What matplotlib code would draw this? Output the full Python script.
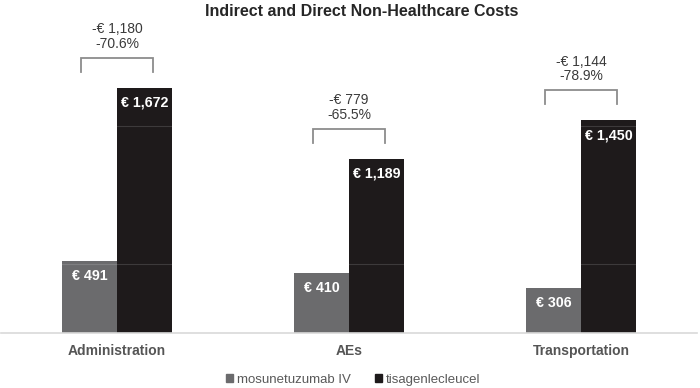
import matplotlib
matplotlib.use("Agg")
import matplotlib.pyplot as plt
from matplotlib.patches import Patch

plt.rcParams['font.family'] = ['Liberation Sans', 'DejaVu Sans']

categories = ["Administration", "AEs", "Transportation"]
series_names = ["mosunetuzumab IV", "tisagenlecleucel"]
mosun = [491, 410, 306]
tisa = [1672, 1189, 1450]
diff_labels = ["-€ 1,180\n-70.6%", "-€ 779\n-65.5%", "-€ 1,144\n-78.9%"]

gray = "#6b6b6d"
black = "#1e1a1b"
txt = "#3a3a3a"

fig = plt.figure(figsize=(7.0, 3.88), dpi=100)
ax = fig.add_axes([1/700, 1 - 333/388, 696/700, (333 - 39.6)/388])

x = list(range(len(categories)))
w = 0.237
b1 = ax.bar([i - w/2 for i in x], mosun, width=w, color=gray, zorder=2)
b2 = ax.bar([i + w/2 for i in x], tisa, width=w, color=black, zorder=2)

ax.set_xlim(-0.5, 2.5)
ax.set_ylim(0, 2000)

# faint gridlines visible through bars
for g in (470, 1410):
    ax.axhline(g, color="white", alpha=0.14, lw=0.8, zorder=3)

for spine in ("left", "right", "top"):
    ax.spines[spine].set_visible(False)
ax.spines["bottom"].set_color("#d9d9d9")
ax.spines["bottom"].set_linewidth(1.2)
ax.set_yticks([])
ax.set_xticks(x)
ax.set_xticklabels(categories, fontsize=10, fontweight="bold", color="#555555")
ax.tick_params(axis="x", length=0, pad=8)

for bars, vals in ((b1, mosun), (b2, tisa)):
    for r, v in zip(bars, vals):
        ax.annotate(f"€ {v:,}", (r.get_x() + r.get_width()/2, v),
                    xytext=(0, -11), textcoords="offset points",
                    ha="center", va="center", color="white",
                    fontsize=10.3, fontweight="bold", zorder=4)

half = 0.157
for i, (t, lab) in enumerate(zip(tisa, diff_labels)):
    lo = t + 109
    hi = t + 205
    ax.plot([i - half, i - half, i + half, i + half], [lo, hi, hi, lo],
            color="#8c8c8c", lw=1.3, solid_joinstyle="miter", clip_on=False)
    ax.annotate(lab, (i, hi), xytext=(0, 5), textcoords="offset points",
                ha="center", va="bottom", color=txt, fontsize=10,
                linespacing=1.05, annotation_clip=False)

fig.text(362/700, 1 - 12/388, "Indirect and Direct Non-Healthcare Costs",
         ha="center", va="center", fontsize=11.5, fontweight="bold", color="#262626")

handles = [Patch(color=gray), Patch(color=black)]
fig.legend(handles, series_names, loc="center", bbox_to_anchor=(353/700, 1 - 380/388),
           ncol=2, frameon=False, fontsize=9.5, handlelength=0.55, handleheight=0.55,
           handletextpad=0.3, columnspacing=1.8, labelcolor="#595959")

fig.savefig("out.png", dpi=100)
